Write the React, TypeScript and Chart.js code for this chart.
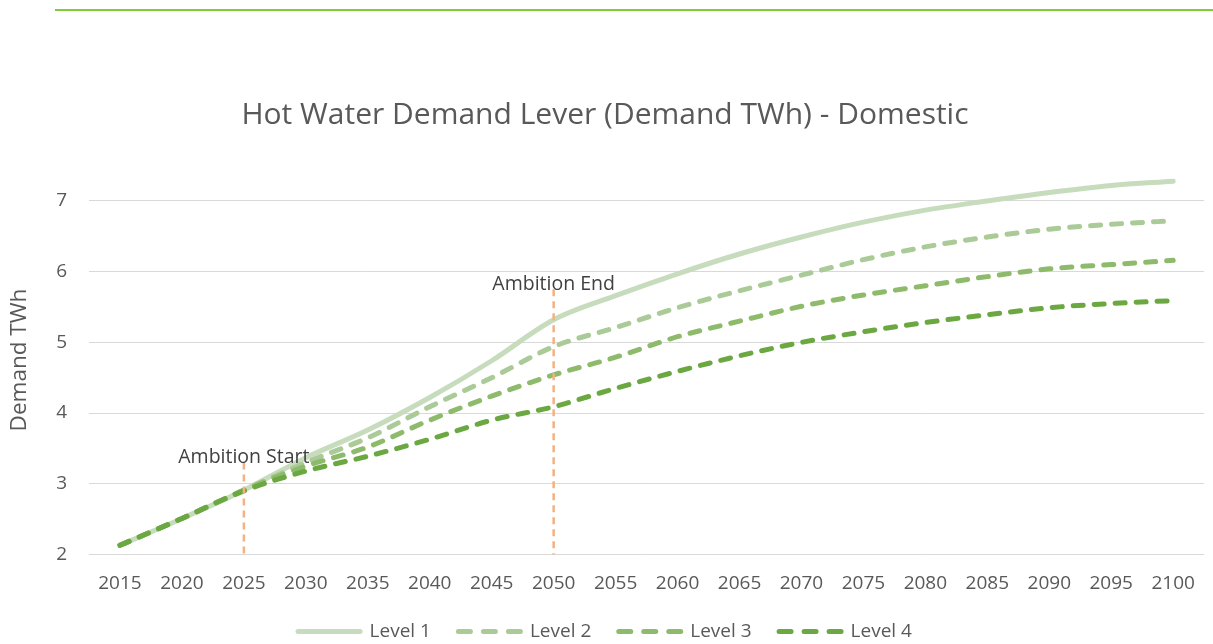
import React, { useEffect, useRef } from 'react';
import { Chart, registerables } from 'chart.js';

Chart.register(...registerables);

const FONT = '"Open Sans", sans-serif';

const years = ['2015', '2020', '2025', '2030', '2035', '2040', '2045', '2050', '2055', '2060', '2065', '2070', '2075', '2080', '2085', '2090', '2095', '2100'];
const level1 = [2.13, 2.51, 2.91, 3.37, 3.76, 4.22, 4.74, 5.32, 5.66, 5.97, 6.25, 6.49, 6.70, 6.87, 7.00, 7.12, 7.22, 7.28];
const level2 = [2.13, 2.51, 2.91, 3.30, 3.65, 4.09, 4.50, 4.94, 5.21, 5.49, 5.73, 5.95, 6.17, 6.35, 6.49, 6.60, 6.67, 6.72];
const level3 = [2.13, 2.51, 2.91, 3.25, 3.52, 3.90, 4.24, 4.54, 4.79, 5.08, 5.30, 5.51, 5.67, 5.80, 5.93, 6.04, 6.10, 6.16];
const level4 = [2.13, 2.51, 2.90, 3.18, 3.39, 3.63, 3.90, 4.09, 4.35, 4.59, 4.81, 5.00, 5.15, 5.28, 5.39, 5.49, 5.55, 5.59];

const seriesLabels = ['Level 1', 'Level 2', 'Level 3', 'Level 4'];
const seriesColors = ['#c6dcbd', '#aacb97', '#8dbb6b', '#6ba841'];

const yTicks = [2, 3, 4, 5, 6, 7];
const yMin = 2;
const yMax = 7.5;

const ambitionYears = ['2025', '2050'];
const ambitionLabels = ['Ambition Start', 'Ambition End'];
const ambitionTop = [3.3, 5.75];

const titleText = 'Hot Water Demand Lever (Demand TWh) - Domestic';
const yTitle = 'Demand TWh';

const topRulePlugin = {
  id: 'topRule',
  beforeDraw(chart: any) {
    const ctx = chart.ctx;
    ctx.save();
    ctx.fillStyle = '#ffffff';
    ctx.fillRect(0, 0, chart.width, chart.height);
    ctx.fillStyle = '#80cc33';
    ctx.fillRect(55, 9, chart.width - 55, 2);
    ctx.restore();
  },
};

const ambitionPlugin = {
  id: 'ambition',
  afterDatasetsDraw(chart: any) {
    const { ctx, scales } = chart;
    const x = scales.x;
    const y = scales.y;
    ambitionYears.forEach((yr, i) => {
      const px = x.getPixelForValue(years.indexOf(yr));
      const top = y.getPixelForValue(ambitionTop[i]);
      const bottom = y.getPixelForValue(yMin);
      ctx.save();
      ctx.strokeStyle = '#f4b183';
      ctx.lineWidth = 2.5;
      ctx.setLineDash([7, 5]);
      ctx.beginPath();
      ctx.moveTo(px, top);
      ctx.lineTo(px, bottom);
      ctx.stroke();
      ctx.setLineDash([]);
      ctx.font = `19.5px ${FONT}`;
      ctx.fillStyle = '#404040';
      ctx.textAlign = 'center';
      ctx.textBaseline = 'middle';
      ctx.fillText(ambitionLabels[i], px, top - 5);
      ctx.restore();
    });
  },
};

export default function App() {
  const ref = useRef<HTMLCanvasElement | null>(null);

  useEffect(() => {
    document.body.style.margin = '0';
    const canvas = ref.current;
    if (!canvas) return;
    const seriesValues = [level1, level2, level3, level4];
    const chart = new Chart(canvas, {
      type: 'line',
      data: {
        labels: years,
        datasets: seriesValues.map((vals, i) => ({
          label: seriesLabels[i],
          data: vals,
          borderColor: seriesColors[i],
          backgroundColor: seriesColors[i],
          borderWidth: 5,
          borderDash: i === 0 ? [] : [10, 11],
          borderCapStyle: 'round',
          borderJoinStyle: 'round',
          pointRadius: 0,
          pointHoverRadius: 0,
          cubicInterpolationMode: 'monotone',
          fill: false,
          order: 4 - i,
        })),
      },
      options: {
        responsive: false,
        animation: false,
        events: [],
        layout: { padding: { left: 0, right: 3, top: 0, bottom: -7 } },
        plugins: {
          tooltip: { enabled: false },
          title: {
            display: true,
            text: titleText,
            color: '#595959',
            font: { family: FONT, size: 30, weight: 'normal' },
            padding: { top: 97, bottom: 32.6 },
          },
          legend: {
            position: 'bottom',
            labels: {
              usePointStyle: true,
              pointStyle: 'line',
              pointStyleWidth: 62,
              boxHeight: 19,
              padding: 27.5,
              color: '#595959',
              font: { family: FONT, size: 19 },
              generateLabels: (c: any) =>
                c.data.datasets.map((ds: any, i: number) => ({
                  text: ds.label,
                  fillStyle: ds.borderColor,
                  strokeStyle: ds.borderColor,
                  lineWidth: 5,
                  lineDash: i === 0 ? [] : [12, 13],
                  lineCap: 'round',
                  pointStyle: 'line',
                  hidden: false,
                  datasetIndex: i,
                  fontColor: '#595959',
                })),
            },
          },
        },
        scales: {
          x: {
            offset: true,
            grid: { display: false, drawTicks: false },
            border: { display: false },
            ticks: {
              color: '#595959',
              font: { family: FONT, size: 19 },
              padding: 18,
              maxRotation: 0,
              autoSkip: false,
            },
            afterFit: (s: any) => {
              s.height = 40;
            },
          },
          y: {
            min: yMin,
            max: yMax,
            afterBuildTicks: (s: any) => {
              s.ticks = yTicks.map((v) => ({ value: v }));
            },
            afterFit: (s: any) => {
              s.width = 89;
            },
            grid: { color: '#d9d9d9', lineWidth: 1, drawTicks: false },
            border: { display: false },
            ticks: {
              color: '#595959',
              font: { family: FONT, size: 19 },
              padding: 22,
            },
            title: {
              display: true,
              text: yTitle,
              color: '#595959',
              font: { family: FONT, size: 22.5 },
              padding: { top: 6, bottom: 0 },
            },
          },
        },
      },
      plugins: [topRulePlugin, ambitionPlugin],
    } as any);
    return () => chart.destroy();
  }, []);

  return (
    <div style={{ width: 1213, height: 644 }}>
      <canvas ref={ref} width={1213} height={644} style={{ display: 'block' }} />
    </div>
  );
}
